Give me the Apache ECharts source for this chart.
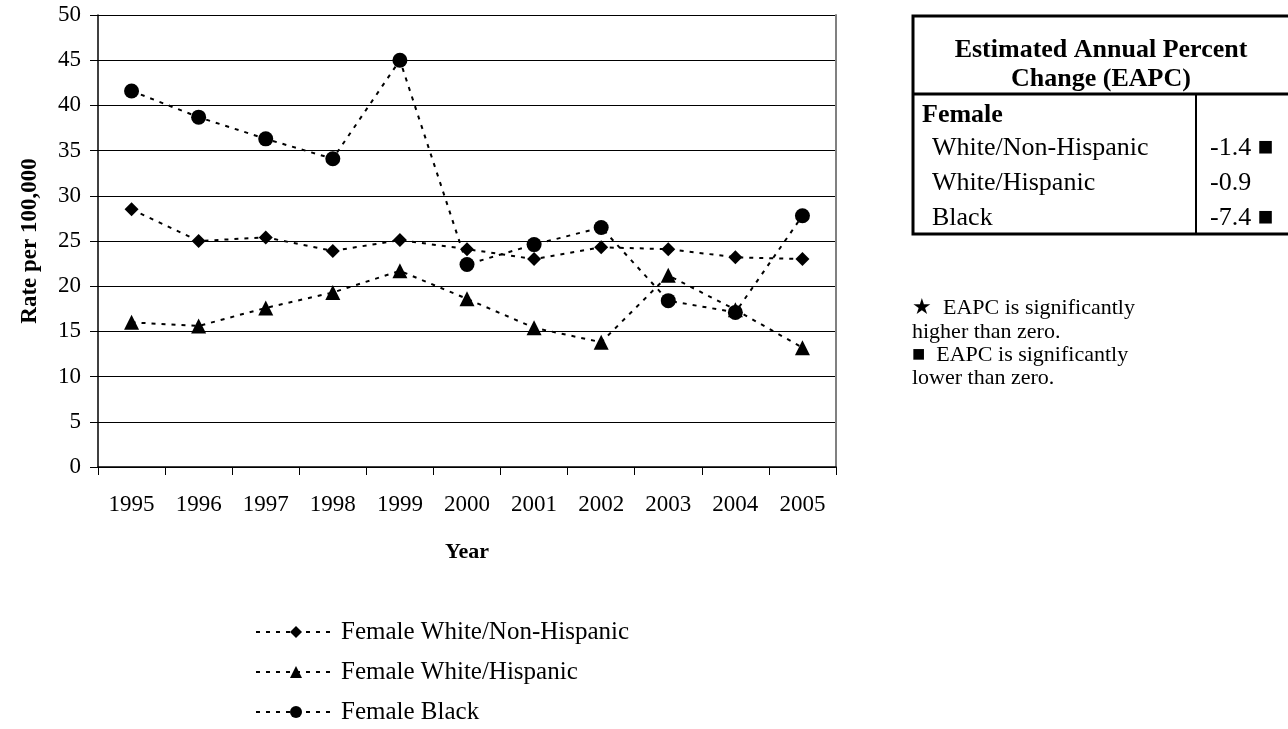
<!DOCTYPE html>
<html>
<head>
<meta charset="utf-8">
<script src="https://cdn.jsdelivr.net/npm/echarts@6/dist/echarts.min.js"></script>
<style>
html,body{margin:0;padding:0;background:#fff;}
#chart{width:1288px;height:729px;}
</style>
</head>
<body>
<div id="chart"></div>
<script>
const years = ['1995','1996','1997','1998','1999','2000','2001','2002','2003','2004','2005'];
const whiteNonHispanic = [28.5, 25.0, 25.4, 23.9, 25.1, 24.1, 23.0, 24.3, 24.1, 23.2, 23.0];
const whiteHispanic = [16.0, 15.6, 17.6, 19.3, 21.7, 18.6, 15.4, 13.8, 21.2, 17.4, 13.2];
const black = [41.6, 38.7, 36.3, 34.1, 45.0, 22.4, 24.6, 26.5, 18.4, 17.1, 27.8];
const seriesNames = ['Female White/Non-Hispanic', 'Female White/Hispanic', 'Female Black'];
const tableRows = ['White/Non-Hispanic', 'White/Hispanic', 'Black'];
const tableValues = ['-1.4 \u25A0', '-0.9', '-7.4 \u25A0'];
const footnotes = ['\u2605  EAPC is significantly', 'higher than zero.', '\u25A0  EAPC is significantly', 'lower than zero.'];

const FONT = '"Liberation Serif", "Times New Roman", serif';
const chart = echarts.init(document.getElementById('chart'));

function mkSeries(name, data, symbol, size) {
  return {
    name: name, type: 'line', data: data, symbol: symbol, symbolSize: size,
    showAllSymbol: true,
    itemStyle: {color: '#000'},
    lineStyle: {color: '#000', width: 2, type: [4, 6]},
    emphasis: {disabled: true}, animation: false
  };
}

function txt(x, y, s, font, align) {
  return {type:'text', x:x, y:y, style:{text:s, font:font, fill:'#000', align:align || 'left', verticalAlign:'middle'}};
}
const TF = '26px ' + FONT;
const TB = 'bold 26px ' + FONT;
const NF = '22px ' + FONT;

const graphics = [
  {type:'rect', shape:{x:913, y:16, width:390, height:218}, style:{fill:'none', stroke:'#000', lineWidth:3}},
  {type:'line', shape:{x1:913, y1:94, x2:1300, y2:94}, style:{stroke:'#000', lineWidth:3}},
  {type:'line', shape:{x1:1196, y1:94, x2:1196, y2:234}, style:{stroke:'#000', lineWidth:2}},
  txt(1101, 50, 'Estimated Annual Percent', TB, 'center'),
  txt(1101, 79, 'Change (EAPC)', TB, 'center'),
  txt(922, 115, 'Female', TB)
];
const noteY = [308, 332, 355, 378];
footnotes.forEach((s, i) => graphics.push(txt(912, noteY[i], s, NF)));
const rowY = [148, 183, 218];
tableRows.forEach((r, i) => {
  graphics.push(txt(932, rowY[i], r, TF));
  graphics.push(txt(1210, rowY[i], tableValues[i], TF));
});

const legends = seriesNames.map((n, i) => ({
  orient: 'vertical', left: 250, top: 614 + i * 40,
  itemWidth: 80, itemHeight: 15,
  data: [n],
  textStyle: {fontFamily: FONT, fontSize: 25, color: '#000', lineHeight: 26},
  selectedMode: false
}));

chart.setOption({
  animation: false,
  backgroundColor: '#fff',
  textStyle: {fontFamily: FONT, color: '#000'},
  grid: {left: 98, top: 15, width: 738, height: 452, containLabel: false},
  legend: legends,
  xAxis: {
    type: 'category', data: years, boundaryGap: true,
    name: 'Year', nameLocation: 'middle', nameGap: 74,
    nameTextStyle: {fontFamily: FONT, fontSize: 22, fontWeight: 'bold', color: '#000'},
    axisLine: {lineStyle: {color: '#000', width: 1.5}},
    axisTick: {show: true, length: 8, lineStyle: {color: '#000', width: 1}},
    axisLabel: {fontFamily: FONT, fontSize: 23, color: '#000', margin: 26, interval: 0},
    splitLine: {show: false}
  },
  yAxis: [{
    type: 'value', min: 0, max: 50, interval: 5,
    name: 'Rate per 100,000', nameLocation: 'middle', nameGap: 56, nameRotate: 90,
    nameTextStyle: {fontFamily: FONT, fontSize: 23, fontWeight: 'bold', color: '#000'},
    axisLine: {show: true, lineStyle: {color: '#000', width: 1.5}},
    axisTick: {show: true, length: 8, lineStyle: {color: '#000', width: 1}},
    axisLabel: {fontFamily: FONT, fontSize: 23, color: '#000', margin: 17},
    splitLine: {show: true, lineStyle: {color: '#000', width: 1}}
  }, {
    type: 'value', min: 0, max: 50, interval: 5, position: 'right',
    axisLine: {show: true, lineStyle: {color: '#808080', width: 2}},
    axisTick: {show: false}, axisLabel: {show: false}, splitLine: {show: false}
  }],
  series: [
    mkSeries(seriesNames[0], whiteNonHispanic, 'diamond', 14),
    mkSeries(seriesNames[1], whiteHispanic, 'triangle', 15),
    mkSeries(seriesNames[2], black, 'circle', 15)
  ],
  graphic: graphics
});
</script>
</body>
</html>
